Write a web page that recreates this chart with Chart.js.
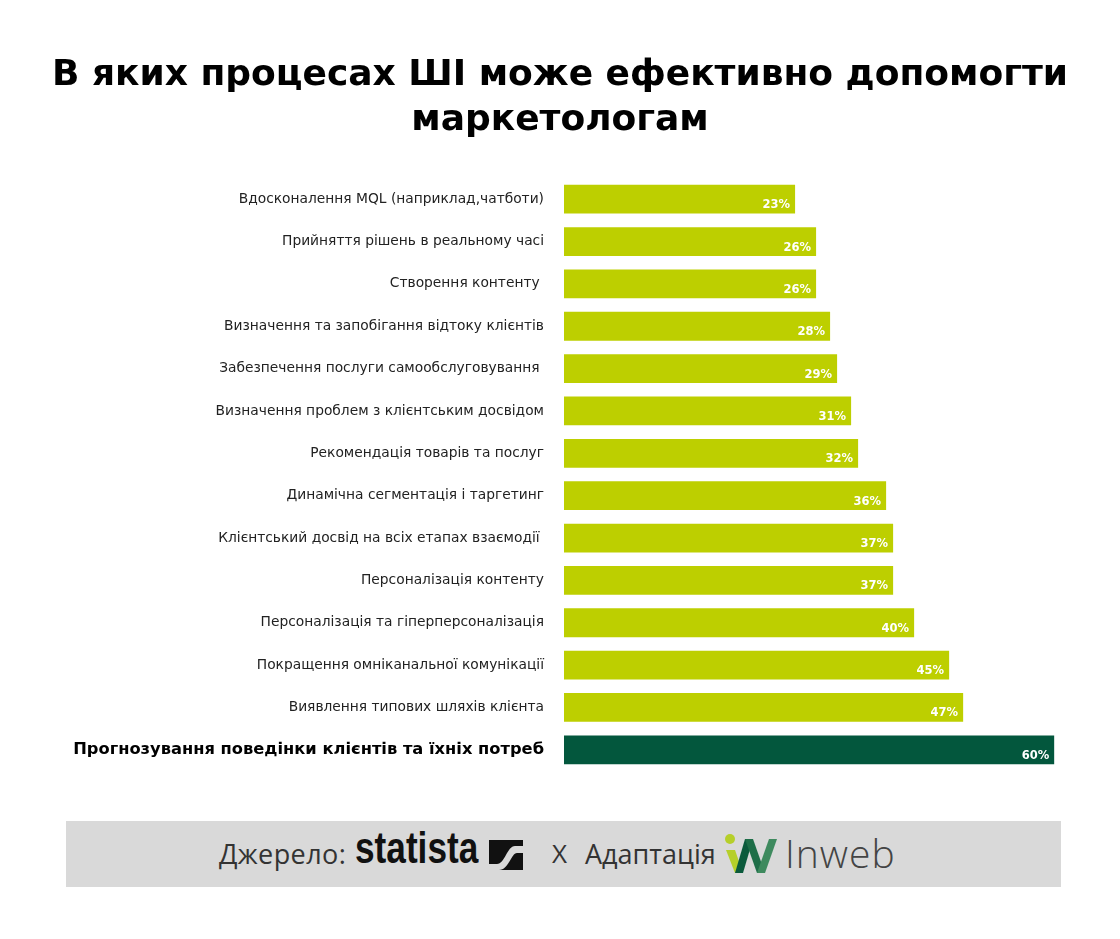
<!DOCTYPE html>
<html lang="uk">
  <head>
    <meta charset="UTF-8">
    <title>ШІ для маркетологів</title>
    <script src="https://cdn.jsdelivr.net/npm/chart.js@4.4.0/dist/chart.umd.min.js"></script>
    <style>
      body { margin: 0; background: #fff; }
      #wrap { position: relative; width: 1120px; height: 939px; }
      #footer {
        position: absolute; left: 66px; top: 821px; width: 995px; height: 66px;
        background: #d9d9d9; font-family: "Open Sans", sans-serif; color: #333;
      }
      #footer span { position: absolute; white-space: nowrap; }
    </style>
  </head>
  <body>
    <div id="wrap">
      <canvas id="chart" width="1120" height="939"></canvas>
      <div id="footer">
        <span style="left:153px; top:14px; font-size:27px; letter-spacing:0.4px;">Джерело:</span>
        <span style="left:289px; top:2px; font-size:44px; font-weight:bold; font-family:'Liberation Sans',sans-serif; color:#111; transform:scaleX(0.8); transform-origin:left top;">statista</span>
        <svg style="position:absolute; left:423px; top:19px;" width="34" height="30" viewBox="0 0 34 30">
          <rect x="0" y="0" width="34" height="30" fill="#111"/>
          <path d="M0 24 L8 24 C16 24 18 6 26 6 L34 6 L34 13 L28 13 C22 13 20 30 10 30 L0 30 Z" fill="#d9d9d9"/>
        </svg>
        <span style="left:486px; top:14px; font-size:26px;">X</span>
        <span style="left:519px; top:14px; font-size:27px;">Адаптація</span>
        <svg style="position:absolute; left:657px; top:12px;" width="60" height="44" viewBox="0 0 60 44">
          <circle cx="7" cy="6" r="5" fill="#b6cf2a"/>
          <path d="M3 17 L12 40 L20 40 L12 17 Z" fill="#b6cf2a"/>
          <path d="M12 40 L22 6 L30 6 L20 40 Z" fill="#0b5a3c"/>
          <path d="M22 6 L34 40 L42 40 L30 6 Z" fill="#1e6e48"/>
          <path d="M34 40 L46 6 L54 6 L42 40 Z" fill="#3e8a5e"/>
        </svg>
        <span style="left:719px; top:5px; font-size:39px; color:#444; font-weight:300; letter-spacing:1px;">Inweb</span>
      </div>
    </div>
    <script type="text/javascript">
      const categories = [
        'Вдосконалення MQL (наприклад,чатботи)',
        'Прийняття рішень в реальному часі',
        'Створення контенту ',
        'Визначення та запобігання відтоку клієнтів',
        'Забезпечення послуги самообслуговування ',
        'Визначення проблем з клієнтським досвідом',
        'Рекомендація товарів та послуг',
        'Динамічна сегментація і таргетинг',
        'Клієнтський досвід на всіх етапах взаємодії ',
        'Персоналізація контенту',
        'Персоналізація та гіперперсоналізація',
        'Покращення омніканальної комунікації',
        'Виявлення типових шляхів клієнта',
        'Прогнозування поведінки клієнтів та їхніх потреб'
      ]
      const shares = [23, 26, 26, 28, 29, 31, 32, 36, 37, 37, 40, 45, 47, 60]
      const highlightIndex = 13

      const lime = '#bdcf00'
      const darkGreen = '#03573d'
      const fontName = '"DejaVu Sans", sans-serif'

      // white % labels at the end of each bar
      const valueLabels = {
        id: 'valueLabels',
        afterDatasetsDraw(chart) {
          const ctx = chart.ctx
          const meta = chart.getDatasetMeta(0)
          ctx.save()
          ctx.fillStyle = '#fff'
          ctx.font = 'bold 11.5px ' + fontName
          ctx.textAlign = 'right'
          ctx.textBaseline = 'middle'
          meta.data.forEach((bar, i) => {
            ctx.fillText(shares[i] + '%', bar.x - 5, bar.y + 6)
          })
          ctx.restore()
        }
      }

      const ctx = document.getElementById('chart').getContext('2d')
      const chart = new Chart(ctx, {
        type: 'bar',
        data: {
          labels: categories,
          datasets: [{
            data: shares,
            base: -10,
            backgroundColor: shares.map((v, i) => i === highlightIndex ? darkGreen : lime),
            borderWidth: 0,
            barPercentage: 0.68,
            categoryPercentage: 1
          }]
        },
        options: {
          indexAxis: 'y',
          responsive: false,
          animation: false,
          layout: { padding: { left: 0, right: 0, top: 0, bottom: 168 } },
          plugins: {
            legend: { display: false },
            tooltip: { enabled: false },
            title: {
              display: true,
              text: ['В яких процесах ШІ може ефективно допомогти', 'маркетологам'],
              color: '#000',
              font: { family: fontName, size: 36, weight: 'bold', lineHeight: 1.25 },
              padding: { top: 53, bottom: 35 }
            }
          },
          scales: {
            x: { display: false, min: -10, max: 69.4 },
            y: {
              grid: { display: false, drawTicks: false },
              border: { display: false },
              afterFit(scale) { scale.width = 564 },
              ticks: {
                padding: 20,
                color: c => c.index === highlightIndex ? '#000' : '#222',
                font: c => c.index === highlightIndex
                  ? { family: fontName, size: 16.3, weight: 'bold' }
                  : { family: fontName, size: 13.8 }
              }
            }
          }
        },
        plugins: [valueLabels]
      })
    </script>
  </body>
</html>
